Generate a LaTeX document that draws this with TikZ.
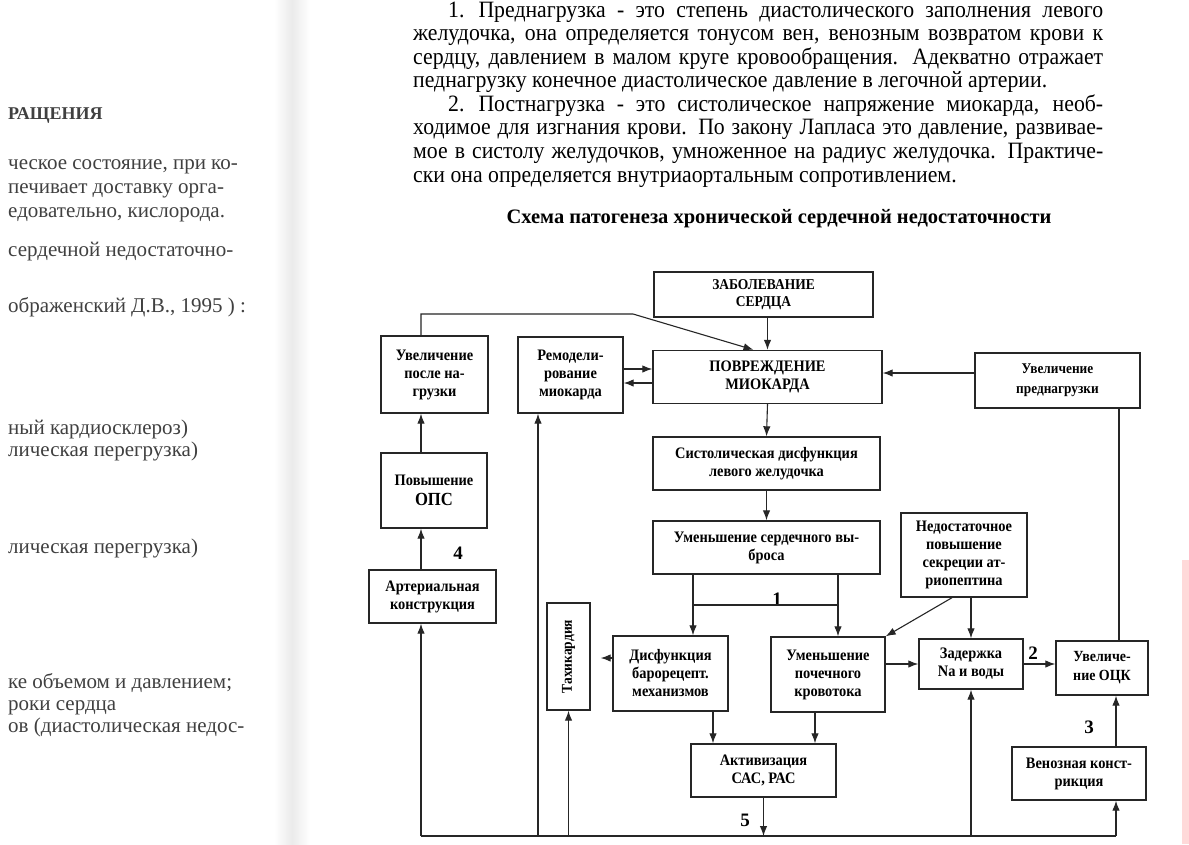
\documentclass[tikz,border=0pt]{standalone}
\usepackage{fontspec}
\setmainfont{Liberation Serif}
\newfontfamily\parfont[FakeStretch=0.93]{Liberation Serif}
\newfontfamily\boxfont[FakeStretch=0.9]{Liberation Serif}
\usetikzlibrary{arrows.meta,calc}
\begin{document}
\begin{tikzpicture}[x=1pt,y=-1pt,
  box/.style={draw=black!85, line width=1.4pt, inner sep=1pt, align=center, font=\boxfont\bfseries\fontsize{16}{18}\selectfont},
  arr/.style={draw=black!85, line width=1.1pt, -{Latex[length=10pt,width=7.5pt]}},
  ln/.style={draw=black!85, line width=1.1pt},
  ptext/.style={anchor=base west, inner sep=0pt, font=\parfont\fontsize{23.4}{24}\selectfont},
  ltext/.style={anchor=base west, inner sep=0pt, text=black!75, font=\fontsize{21}{22}\selectfont},
  num/.style={font=\bfseries\fontsize{19}{19}\selectfont, inner sep=0pt}]
\useasboundingbox (0,0) rectangle (1189,844);
\fill[white] (0,0) rectangle (1189,844);
% page gutter shadow and right edge tint
\shade[left color=white, right color=black!8] (274,0) rectangle (292,844);
\shade[left color=black!8, right color=white] (292,0) rectangle (310,844);
\fill[red!15] (1182,560) rectangle (1189,844);

% ---------- left (facing) page fragments ----------
\node[ltext, font=\bfseries\fontsize{18}{20}\selectfont] (l1) at (8,119) {РАЩЕНИЯ};
\node[ltext] (l2) at (8,169) {ческое состояние, при ко-};
\node[ltext] (l3) at (8,193) {печивает доставку орга-};
\node[ltext] (l4) at (8,217) {едовательно, кислорода.};
\node[ltext] (l5) at (8,256) {сердечной недостаточно-};
\node[ltext] (l6) at (8,312) {ображенский Д.В., 1995 ) :};
\node[ltext] (l7) at (8,434) {ный кардиосклероз)};
\node[ltext] (l8) at (8,456) {лическая перегрузка)};
\node[ltext] (l9) at (8,553) {лическая перегрузка)};
\node[ltext] (l10) at (8,688) {ке объемом и давлением;};
\node[ltext] (l11) at (8,710) {роки сердца};
\node[ltext] (l12) at (8,732) {ов (диастолическая недос-};

% ---------- top paragraphs ----------
\node[ptext] (p1) at (448,17) {\makebox[655pt][s]{1.\hspace{14pt}Преднагрузка - это степень диастолического заполнения левого}};
\node[ptext] (p2) at (413,40.6) {\makebox[690pt][s]{желудочка, она определяется тонусом вен, венозным возвратом крови к}};
\node[ptext] (p3) at (413,64.1) {\makebox[690pt][s]{сердцу, давлением в малом круге кровообращения. Адекватно отражает}};
\node[ptext] (p4) at (413,87.7) {педнагрузку конечное диастолическое давление в легочной артерии.};
\node[ptext] (p5) at (448,111.3) {\makebox[655pt][s]{2.\hspace{14pt}Постнагрузка - это систолическое напряжение миокарда, необ-}};
\node[ptext] (p6) at (413,134.9) {\makebox[690pt][s]{ходимое для изгнания крови. По закону Лапласа это давление, развивае-}};
\node[ptext] (p7) at (413,158.4) {\makebox[690pt][s]{мое в систолу желудочков, умноженное на радиус желудочка. Практиче-}};
\node[ptext] (p8) at (413,182) {ски она определяется внутриаортальным сопротивлением.};

% ---------- title ----------
\node[font=\bfseries\fontsize{20.5}{22}\selectfont, inner sep=0pt] (title) at (779,219) {Схема патогенеза хронической сердечной недостаточности};

% ---------- boxes ----------
\node[box, minimum width=219pt, minimum height=45pt, font=\boxfont\bfseries\fontsize{15}{17}\selectfont] (zab) at (763.5,294.5) {ЗАБОЛЕВАНИЕ\\СЕРДЦА};
\node[box, minimum width=229pt, minimum height=53pt] (pov) at (767.5,377) {ПОВРЕЖДЕНИЕ\\МИОКАРДА};
\node[box, minimum width=107pt, minimum height=77pt] (uvpn) at (434.5,374.5) {Увеличение\\после на-\\грузки};
\node[box, minimum width=105pt, minimum height=76pt] (rem) at (570.5,375) {Ремодели-\\рование\\миокарда};
\node[box, minimum width=165pt, minimum height=55pt, font=\boxfont\bfseries\fontsize{14.8}{20}\selectfont] (pred) at (1057.5,380.5) {Увеличение\\преднагрузки};
\node[box, minimum width=227pt, minimum height=53pt] (sys) at (766.5,463.5) {Систолическая дисфункция\\левого желудочка};
\node[box, minimum width=227pt, minimum height=53pt] (vyb) at (766.5,547.5) {Уменьшение сердечного вы-\\броса};
\node[box, minimum width=126pt, minimum height=84pt] (ned) at (964,555) {Недостаточное\\повышение\\секреции ат-\\риопептина};
\node[box, minimum width=106pt, minimum height=75pt] (ops) at (434,490.5) {Повышение\\[2pt]{\fontsize{18.5}{18}\selectfont ОПС}};
\node[box, minimum width=127pt, minimum height=53pt] (art) at (432.5,596.5) {Артериальная\\конструкция};
\node[box, minimum width=43pt, minimum height=107pt, font=\boxfont\bfseries\fontsize{15}{16}\selectfont] (tah) at (568.5,656.5) {\rotatebox{90}{Тахикардия}};
\node[box, minimum width=115pt, minimum height=75pt] (dis) at (670.5,673.5) {Дисфункция\\барорецепт.\\механизмов};
\node[box, minimum width=114pt, minimum height=75pt] (poch) at (828,674.5) {Уменьшение\\почечного\\кровотока};
\node[box, minimum width=104pt, minimum height=50pt] (zad) at (971,664) {Задержка\\Na и воды};
\node[box, minimum width=92pt, minimum height=54pt, font=\boxfont\bfseries\fontsize{15.5}{19}\selectfont] (otsk) at (1102,668) {Увеличе-\\ние ОЦК};
\node[box, minimum width=145pt, minimum height=53pt] (akt) at (763.5,770.5) {Активизация\\САС, РАС};
\node[box, minimum width=134pt, minimum height=53pt] (ven) at (1079,773.5) {Венозная конст-\\рикция};

% ---------- numbers ----------
\node[num] (n1) at (777,599) {1};
\node[num] (n2) at (1033,653) {2};
\node[num] (n3) at (1089,727) {3};
\node[num] (n4) at (458,553) {4};
\node[num] (n5) at (745,820) {5};

% ---------- helper coordinates ----------
\coordinate (bl) at (0,836);
\coordinate (c4) at (421,0);
\coordinate (c5) at (538,0);
\coordinate (c6) at (1116,0);
\coordinate (c7) at (1119,0);
\coordinate (ty) at (0,314);
\coordinate (tx) at (633,314);
\coordinate (h) at (0,605);
\coordinate (va) at (693,0);
\coordinate (vb) at (838,0);
\coordinate (da) at (713,0);
\coordinate (pa) at (815,0);
\coordinate (ra) at (0,369);
\coordinate (rb) at (0,383);
\coordinate (pr) at (0,373);
\coordinate (dt) at (0,658);

% ---------- connectors ----------
\draw[arr] (zab.south -| pov.north) -- (pov.north);
\draw[arr] (c4 |- uvpn.north) -- (c4 |- ty) -- (tx) -- ($(pov.north)+(-14,0)$);
\draw[arr] (rem.east |- ra) -- (pov.west |- ra);
\draw[arr] (pov.west |- rb) -- (rem.east |- rb);
\draw[arr] (pred.west |- pr) -- (pov.east |- pr);
\draw[ln] (c7 |- pred.south) -- (c7 |- otsk.north);
\draw[arr] (pov.south) -- (sys.north);
\draw[arr] (sys.south) -- (vyb.north);
\draw[arr] (va |- vyb.south) -- (va |- dis.north);
\draw[arr] (vb |- vyb.south) -- (vb |- poch.north);
\draw[ln] (va |- h) -- (vb |- h);
\draw[arr] ($(ned.south)+(-12,0)$) -- (poch.north east);
\draw[arr] (zad.north |- ned.south) -- (zad.north);
\draw[arr] (poch.east |- zad.west) -- (zad.west);
\draw[arr] (zad.east) -- (otsk.west |- zad.east);
\draw[arr, shorten >=10pt] (dis.west |- dt) -- (tah.east |- dt);
\draw[arr] (da |- dis.south) -- (da |- akt.north);
\draw[arr] (pa |- poch.south) -- (pa |- akt.north);
\draw[arr] (akt.south) -- (akt.south |- bl);
\draw[ln] (c4 |- bl) -- (c6 |- bl);
\draw[arr] (c4 |- bl) -- (c4 |- art.south);
\draw[arr] (c4 |- art.north) -- (c4 |- ops.south);
\draw[arr] (c4 |- ops.north) -- (c4 |- uvpn.south);
\draw[arr] (c5 |- bl) -- (c5 |- rem.south);
\draw[arr] (tah.south |- bl) -- (tah.south);
\draw[arr] (zad.south |- bl) -- (zad.south);
\draw[arr] (c6 |- bl) -- (c6 |- ven.south);
\draw[arr] (c6 |- ven.north) -- (c6 |- otsk.south);
\end{tikzpicture}
\end{document}
